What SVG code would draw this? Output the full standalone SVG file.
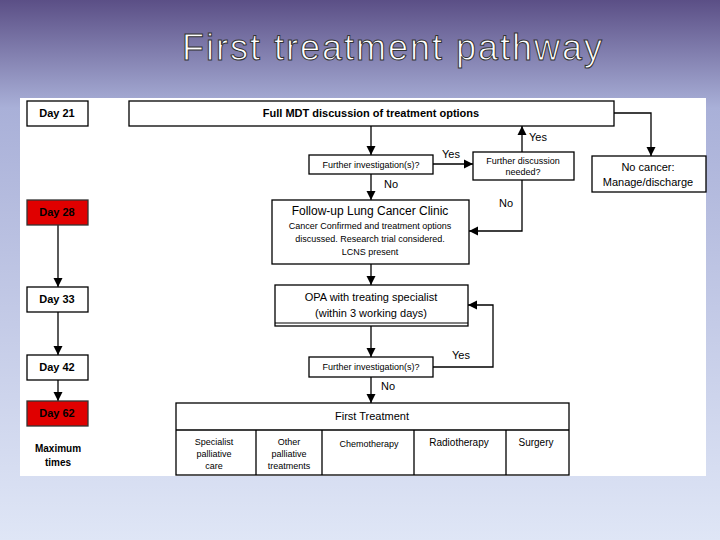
<svg xmlns="http://www.w3.org/2000/svg" width="720" height="540" viewBox="0 0 720 540">
<defs>
<linearGradient id="bg" x1="0" y1="0" x2="0" y2="1">
<stop offset="0" stop-color="#5b4f86"/><stop offset="0.2" stop-color="#a9b0d8"/><stop offset="1" stop-color="#dfe6f6"/>
</linearGradient>
<marker id="a" viewBox="0 0 10 10" refX="10" refY="5" markerWidth="7" markerHeight="7" orient="auto"><path d="M0,0L10,5L0,10z" fill="#000"/></marker>
</defs>
<style>
.b{fill:#fff;stroke:#000;stroke-width:1.3}
.r{fill:#e00000;stroke:#333;stroke-width:1.3}
.l{fill:none;stroke:#000;stroke-width:1.3;marker-end:url(#a)}
text{font-family:"Liberation Sans",Arial,sans-serif;fill:#000;text-anchor:middle}
.t{font-size:11px;font-weight:bold}
.s{font-size:9px}
.m{font-size:11px}
</style>
<rect width="720" height="540" fill="url(#bg)"/>
<text x="393" y="60" style="font-size:36px;fill:#fff;stroke:#333;stroke-width:1;letter-spacing:2px">First treatment pathway</text>
<rect x="20" y="98" width="686" height="378" fill="#fff"/>
<g id="connectors">
<path class="l" d="M371,126V155"/>
<path class="l" d="M433,164H473"/>
<path class="l" d="M522,152V126"/>
<path class="l" d="M371,174V200"/>
<path class="l" d="M522,180V231H469"/>
<path class="l" d="M614,113H651V156"/>
<path class="l" d="M371,264V285"/>
<path class="l" d="M371,326V357"/>
<path class="l" d="M433,367H493V305H468"/>
<path class="l" d="M371,377V403"/>
<path class="l" d="M58,225V287"/>
<path class="l" d="M58,312V355"/>
<path class="l" d="M58,380V401"/>
<text class="m" x="538" y="141">Yes</text>
<text class="m" x="451" y="158">Yes</text>
<text class="m" x="391" y="188">No</text>
<text class="m" x="506" y="207">No</text>
<text class="m" x="461" y="359">Yes</text>
<text class="m" x="388" y="390">No</text>
</g>
<g id="day21"><rect class="b" x="27" y="101" width="61" height="25"/><text class="t" x="57" y="117">Day 21</text></g>
<g id="day28"><rect class="r" x="27" y="200" width="61" height="25"/><text class="t" x="57" y="216">Day 28</text></g>
<g id="day33"><rect class="b" x="27" y="287" width="61" height="25"/><text class="t" x="57" y="303">Day 33</text></g>
<g id="day42"><rect class="b" x="27" y="355" width="61" height="25"/><text class="t" x="57" y="371">Day 42</text></g>
<g id="day62"><rect class="r" x="27" y="401" width="61" height="25"/><text class="t" x="57" y="417">Day 62</text></g>
<g id="maxtimes"><text class="t" x="58" y="452" style="font-size:10px">Maximum</text><text class="t" x="58" y="466" style="font-size:10px">times</text></g>
<g id="mdt"><rect class="b" x="129" y="101" width="485" height="25"/><text class="t" x="371" y="117">Full MDT discussion of treatment options</text></g>
<g id="fi1"><rect class="b" x="309" y="155" width="124" height="19"/><text class="s" x="371" y="168">Further investigation(s)?</text></g>
<g id="fd"><rect class="b" x="473" y="152" width="101" height="28"/><text class="s" x="523" y="164">Further discussion</text><text class="s" x="523" y="175">needed?</text></g>
<g id="nocancer"><rect class="b" x="592" y="156" width="114" height="36"/><text class="m" x="648" y="171">No cancer:</text><text class="m" x="648" y="186">Manage/discharge</text></g>
<g id="followup"><rect class="b" x="272" y="200" width="197" height="64"/><text x="370" y="215" style="font-size:12px">Follow-up Lung Cancer Clinic</text><text class="s" x="370" y="229">Cancer Confirmed and treatment options</text><text class="s" x="370" y="242">discussed. Research trial considered.</text><text class="s" x="370" y="255">LCNS present</text></g>
<g id="opa"><rect class="b" x="275" y="285" width="193" height="41"/><path d="M275,323H468" stroke="#000" stroke-width="1"/><text class="m" x="371" y="301">OPA with treating specialist</text><text class="m" x="371" y="317">(within 3 working days)</text></g>
<g id="fi2"><rect class="b" x="309" y="357" width="124" height="20"/><text class="s" x="371" y="370">Further investigation(s)?</text></g>
<g id="first"><rect class="b" x="176" y="403" width="393" height="72"/><path d="M176,430H569M256,430V475M322,430V475M414,430V475M506,430V475" stroke="#000" stroke-width="1.3"/>
<text class="m" x="372" y="420">First Treatment</text>
<text class="s" x="214" y="445">Specialist</text><text class="s" x="214" y="457">palliative</text><text class="s" x="214" y="469">care</text>
<text class="s" x="289" y="445">Other</text><text class="s" x="289" y="457">palliative</text><text class="s" x="289" y="469">treatments</text>
<text class="s" x="369" y="447">Chemotherapy</text>
<text class="m" x="459" y="446" style="font-size:10px">Radiotherapy</text>
<text class="m" x="536" y="446" style="font-size:10px">Surgery</text></g>
</svg>
